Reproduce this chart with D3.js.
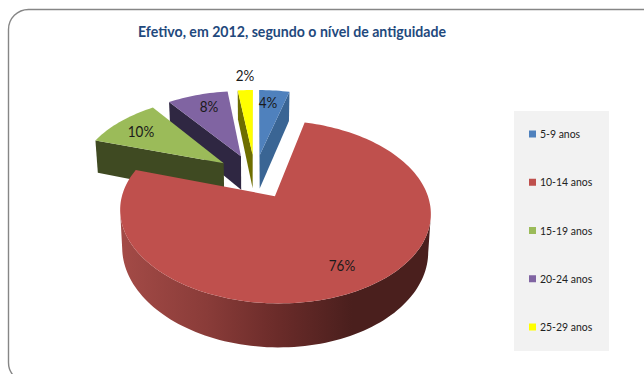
<!DOCTYPE html>
<html><head><meta charset="utf-8">
<script src="https://cdn.jsdelivr.net/npm/d3@7/dist/d3.min.js"></script>
<style>html,body{margin:0;padding:0;background:#fff}svg{display:block}</style>
</head><body><svg id="c" width="644" height="374"></svg>
<script>
const title = "Efetivo, em 2012, segundo o nível de antiguidade";
const categories = ["5-9 anos","10-14 anos","15-19 anos","20-24 anos","25-29 anos"];
const values = [4,76,10,8,2];
const colors = ["#4f81bd","#bf504d","#9bbb59","#8064a2","#ffff00"];
const wallColors = ["#3a6594",null,"#3f4a22","#2f2742","#6e6e00"];
const labelPos = [[268,108],[342,271],[141,137],[209,112],[245,81]];

const svg=d3.select("#c");
const defs=svg.append("defs");

// frame (runs off the right and bottom of the picture)
svg.append("rect").attr("x",8.5).attr("y",9.5).attr("width",660).attr("height",373).attr("rx",20)
  .attr("fill","#fff").attr("stroke","#868686").attr("stroke-width",1.4);

// projection of the pie plane
const e=0.27,K=147,cx=255,A=52.85,B=175.96,C=-0.1655,D=35;
const proj=(X,V)=>{const w=1+C*V;return [cx+K*X/w,(A*V+B)/w];};
const base=(X,V)=>{const w=1+C*V;const p=proj(X,V);return [cx+(p[0]-cx)*0.985,p[1]+D/w];};

const arcs=d3.pie().sort(null).value(d=>d)(values);
const line=d3.line();
const slices=arcs.map((a,i)=>{
  const mid=(a.startAngle+a.endAngle)/2;
  const ox=e*Math.sin(mid),ov=-e*Math.cos(mid);
  const n=Math.max(3,Math.ceil((a.endAngle-a.startAngle)/0.03));
  const angs=d3.range(n+1).map(k=>a.startAngle+(a.endAngle-a.startAngle)*k/n);
  const pts=[[ox,ov]].concat(angs.map(t=>[ox+Math.sin(t),ov-Math.cos(t)]));
  return {i,pts,ov,mid};
});

// red wall gradient
const grad=defs.append("linearGradient").attr("id","rw").attr("gradientUnits","userSpaceOnUse")
  .attr("x1",119).attr("x2",430).attr("y1",0).attr("y2",0);
[[0,"#a44b47"],[0.28,"#8a3c39"],[0.5,"#6c2c2a"],[0.75,"#4a1f1d"],[1,"#4a1f1d"]]
  .forEach(s=>grad.append("stop").attr("offset",s[0]).attr("stop-color",s[1]));

const order=[...slices].sort((a,b)=>a.ov-b.ov);
const g=svg.append("g");
order.forEach(s=>{
  const n=s.pts.length;
  const fill=s.i===1?"url(#rw)":wallColors[s.i];
  // contiguous runs of edges whose wall faces the viewer
  const runs=[];let cur=null;
  for(let k=0;k<n;k++){
    const p=s.pts[k],q=s.pts[(k+1)%n];
    const a=proj(p[0],p[1]),b=proj(q[0],q[1]);
    if(b[0]-a[0]<0){ if(!cur){cur=[p];runs.push(cur);} cur.push(q);} else cur=null;
  }
  runs.forEach(r=>{
    const poly=r.map(p=>proj(p[0],p[1])).concat(r.slice().reverse().map(p=>base(p[0],p[1])));
    g.append("path").attr("d",line(poly)+"Z").attr("fill",fill);
  });
  g.append("path").attr("d",line(s.pts.map(p=>proj(p[0],p[1])))+"Z").attr("fill",colors[s.i]);
});

// narrows a text by a factor while keeping its height
const narrow=(sel,f)=>sel.each(function(){
  this.setAttribute("textLength",this.getComputedTextLength()*f);
  this.setAttribute("lengthAdjust","spacingAndGlyphs");
});

// data labels
const font="Lato, 'Liberation Sans', sans-serif";
svg.selectAll("text.lab").data(values).join("text").attr("class","lab")
  .attr("x",(d,i)=>labelPos[i][0]).attr("y",(d,i)=>labelPos[i][1])
  .attr("text-anchor","middle").attr("font-family",font).attr("font-size",16).attr("fill","#1a1a1a")
  .text(d=>d+"%").call(narrow,0.84);

// title
svg.append("text").attr("x",292).attr("y",37).attr("text-anchor","middle")
  .attr("font-family",font).attr("font-weight",700).attr("font-size",14.5).attr("fill","#1f497d")
  .attr("textLength",308).attr("lengthAdjust","spacingAndGlyphs").text(title);

// legend
svg.append("rect").attr("x",514).attr("y",111).attr("width",95).attr("height",240).attr("fill","#f2f2f2");
const ly=d3.scalePoint().domain(categories).range([134,327]);
const lg=svg.selectAll("g.lg").data(categories).join("g").attr("class","lg").attr("transform",d=>`translate(529,${ly(d)})`);
lg.append("rect").attr("x",0).attr("y",-3.5).attr("width",7).attr("height",7).attr("fill",(d,i)=>colors[i]);
lg.append("text").attr("x",11).attr("y",4).attr("font-family",font).attr("font-size",12).attr("fill","#222")
  .text(d=>d).call(narrow,0.87);
</script></body></html>
